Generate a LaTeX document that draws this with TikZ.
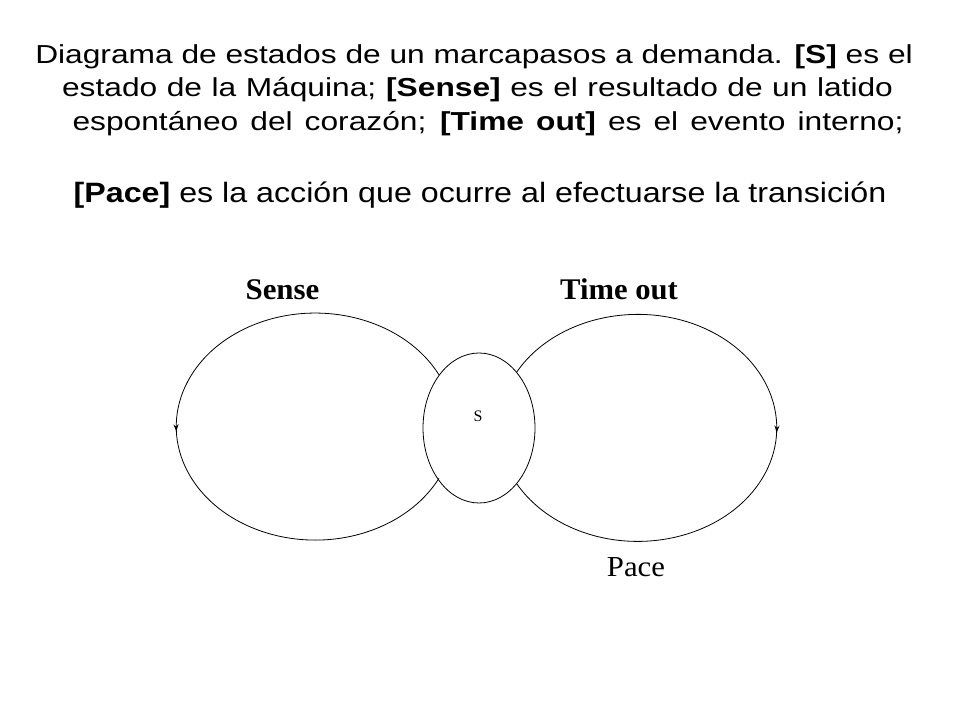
\documentclass[tikz,border=0pt]{standalone}
\usepackage{fontspec}
\setmainfont{Liberation Serif}
\newfontfamily\arialf{Liberation Sans}
\usetikzlibrary{arrows.meta,decorations.markings,shapes.geometric}
\tikzset{
  titleline/.style={font=\arialf\fontsize{26}{30}\selectfont, anchor=base, inner sep=0pt},
  bigline/.style={font=\arialf\fontsize{28}{32}\selectfont, anchor=base, inner sep=0pt},
  evlabel/.style={font=\fontsize{30}{34}\selectfont\bfseries, anchor=base, inner sep=0pt},
  actlabel/.style={font=\fontsize{29}{33}\selectfont, anchor=base, inner sep=0pt},
  statenode/.style={ellipse, draw, fill=white, minimum width=112pt, minimum height=150pt, inner sep=0pt, line width=0.8pt},
  statetext/.style={font=\fontsize{16}{18}\selectfont, inner sep=0pt},
  loopline/.style={line width=0.8pt, postaction={decorate},
    decoration={markings, mark=at position 0.507 with {\arrow{Stealth[length=7pt,width=5pt]}}}}
}
\begin{document}
\begin{tikzpicture}[x=1pt,y=1pt]
\path[use as bounding box, fill=white] (0,0) rectangle (960,720);
% title
\node[titleline] (t1) at (474,656.5) {\scalebox{1.22}[1]{Diagrama de estados de un marcapasos a demanda. \textbf{[S]} es el}};
\node[titleline] (t2) at (477.5,623) {\scalebox{1.22}[1]{\makebox[681pt][s]{estado de la Máquina; \textbf{[Sense]} es el resultado de un latido}}};
\node[titleline] (t3) at (488,589.5) {\scalebox{1.22}[1]{\makebox[681pt][s]{espontáneo del corazón; \textbf{[Time out]} es el evento interno;}}};
\node[bigline] (t4) at (480,517) {\scalebox{1.15}[1]{\textbf{[Pace]} es la acción que ocurre al efectuarse la transición}};
% state
\node[statenode] (S) at (479,292) {};
\node[statetext] (slabel) at (478,303.3) {S};
% self loops
\draw[loopline] (S.127.7) arc[start angle=27.1, end angle=332.9, x radius=139, y radius=113.5];
\draw[loopline] (S.56.7) arc[start angle=150.5, end angle=-150.5, x radius=139, y radius=113.5];
% labels
\node[evlabel] (sense) at (282.5,420) {\scalebox{1.03}[1]{Sense}};
\node[evlabel] (timeout) at (619,420) {\scalebox{1.02}[1]{Time out}};
\node[actlabel] (pace) at (636,144) {\scalebox{1.06}[1]{Pace}};
\end{tikzpicture}
\end{document}
